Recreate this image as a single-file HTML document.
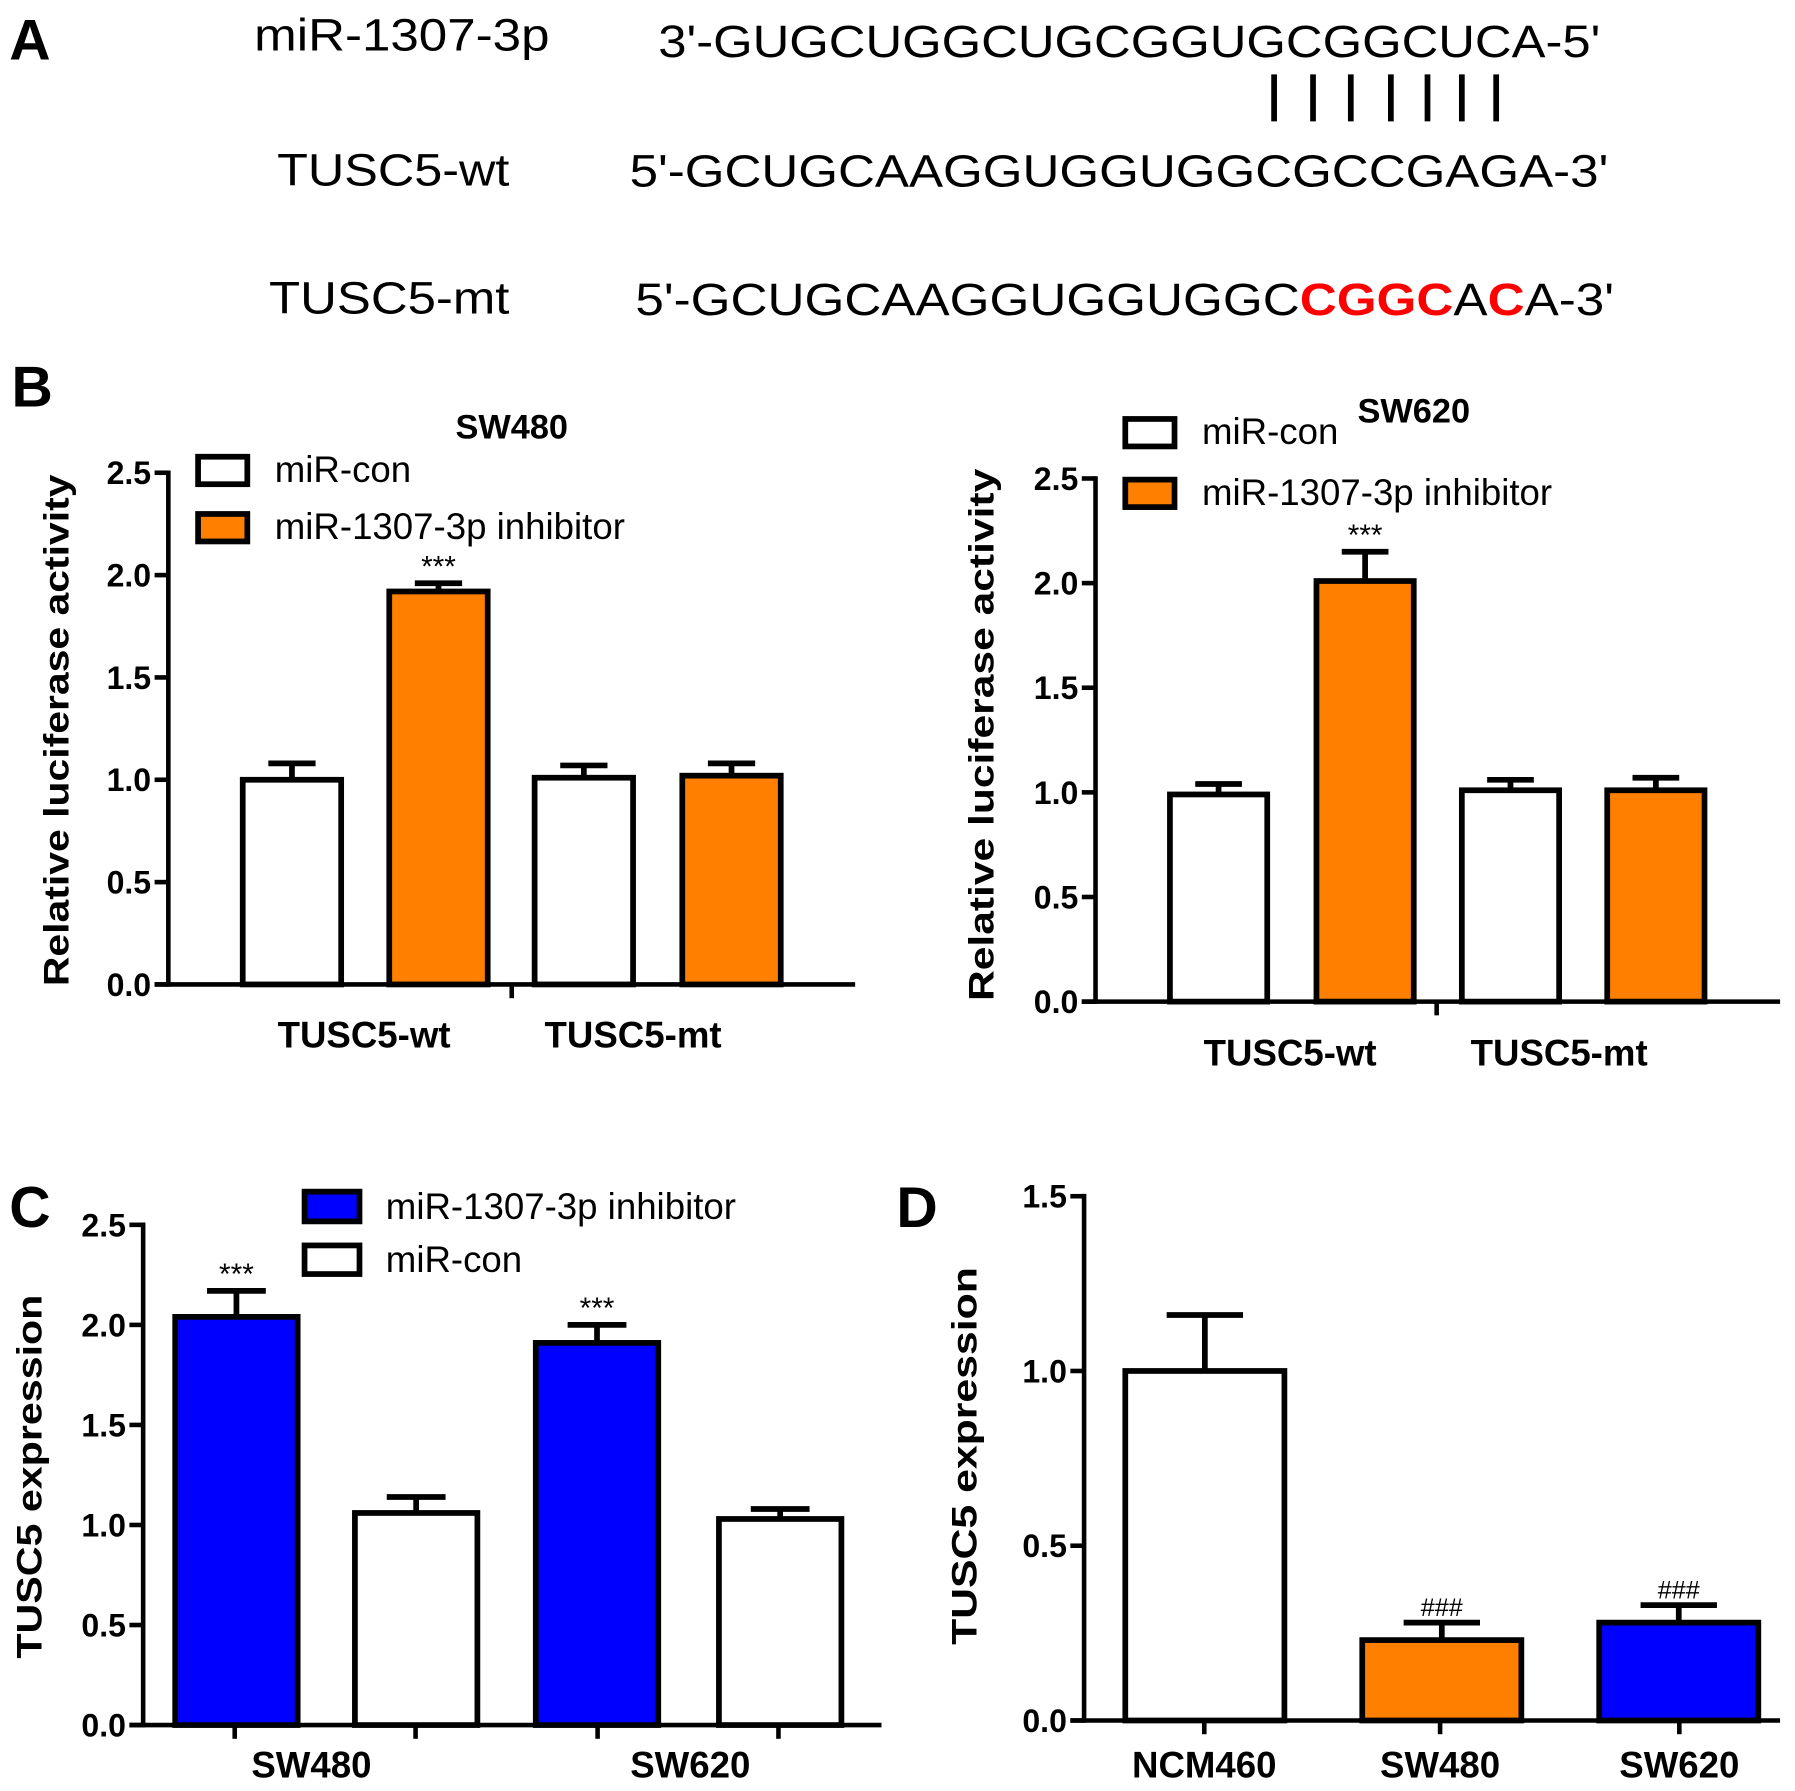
<!DOCTYPE html>
<html><head><meta charset="utf-8"><style>
html,body{margin:0;padding:0;background:#fff}
svg{display:block}
text{font-family:"Liberation Sans",Arial,sans-serif}
</style></head><body>
<svg id="fig" width="1795" height="1791" viewBox="0 0 1568 1564.6" xmlns="http://www.w3.org/2000/svg">
<g>
<text x="8" y="52" font-size="50" font-weight="bold">A</text>
<text x="222" y="44" font-size="40" textLength="258" lengthAdjust="spacingAndGlyphs">miR-1307-3p</text>
<text x="575" y="50" font-size="40" textLength="823" lengthAdjust="spacingAndGlyphs">3'-GUGCUGGCUGCGGUGCGGCUCA-5'</text>
<g stroke="#000" stroke-width="5">
<line x1="1113" y1="65" x2="1113" y2="106"/><line x1="1147" y1="65" x2="1147" y2="106"/><line x1="1180" y1="65" x2="1180" y2="106"/><line x1="1215" y1="65" x2="1215" y2="106"/><line x1="1247" y1="65" x2="1247" y2="106"/><line x1="1277" y1="65" x2="1277" y2="106"/><line x1="1307" y1="65" x2="1307" y2="106"/>
</g>
<text x="242" y="162" font-size="40" textLength="203" lengthAdjust="spacingAndGlyphs">TUSC5-wt</text>
<text x="550" y="163" font-size="40" textLength="855" lengthAdjust="spacingAndGlyphs">5'-GCUGCAAGGUGGUGGCGCCGAGA-3'</text>
<text x="235" y="274" font-size="40" textLength="210" lengthAdjust="spacingAndGlyphs">TUSC5-mt</text>
<text x="555" y="275" font-size="40" textLength="855" lengthAdjust="spacingAndGlyphs">5'-GCUGCAAGGUGGUGGC<tspan fill="#f00" font-weight="bold">CGGC</tspan>A<tspan fill="#f00" font-weight="bold">C</tspan>A-3'</text>
</g>
<text x="10" y="355" font-size="50" font-weight="bold">B</text>
<text x="8" y="1072" font-size="50" font-weight="bold">C</text>
<text x="783" y="1072" font-size="50" font-weight="bold">D</text>
</svg>
<script>
// ---- data ----
const b1Values = [1.0, 1.92, 1.01, 1.02];
const b1Errors = [0.08, 0.04, 0.06, 0.06];
const b1Marks = ["", "***", "", ""];
const b2Values = [0.99, 2.01, 1.01, 1.01];
const b2Errors = [0.05, 0.14, 0.05, 0.06];
const b2Marks = ["", "***", "", ""];
const bCategories = ["TUSC5-wt", "TUSC5-mt"];
const cValues = [2.04, 1.06, 1.91, 1.03];
const cErrors = [0.13, 0.08, 0.09, 0.05];
const cMarks = ["***", "", "***", ""];
const cCategories = ["SW480", "SW620"];
const dValues = [1.0, 0.23, 0.28];
const dErrors = [0.16, 0.05, 0.05];
const dMarks = ["", "###", "###"];
const dCategories = ["NCM460", "SW480", "SW620"];
const ticks25 = ["0.0", "0.5", "1.0", "1.5", "2.0", "2.5"];
const ticks15 = ["0.0", "0.5", "1.0", "1.5"];

const NS = "http://www.w3.org/2000/svg";
const svg = document.getElementById('fig');
function el(tag, attrs, parent, txt) {
  const e = document.createElementNS(NS, tag);
  for (const k in attrs) e.setAttribute(k, attrs[k]);
  if (txt !== undefined) e.textContent = txt;
  parent.appendChild(e);
  return e;
}
function chart(o) {
  const g = el('g', {}, svg);
  
  
  const max = parseFloat(o.ticks[o.ticks.length - 1]);
  const y = v => o.y0 - (v / max) * (o.y0 - o.yTop);
  const ax = el('line', {x1: o.ax, y1: o.yTop - 2, x2: o.ax, y2: o.y0 + 2, stroke: '#000', 'stroke-width': 4}, g);
  
  
  o.ticks.forEach(t => {
    const v = parseFloat(t);
    el('line', {x1: o.ax - 12, y1: y(v), x2: o.ax, y2: y(v), stroke: '#000', 'stroke-width': 4}, g);
    const tl = el('text', {x: o.ax - 15, y: y(v) + 10, 'font-size': 28, 'font-weight': 'bold', 'text-anchor': 'end'}, g, t);
    
    
  });
  const xa = el('line', {x1: o.ax - 12, y1: o.y0, x2: o.xEnd, y2: o.y0, stroke: '#000', 'stroke-width': 4}, g);
  
  
  o.xTicks.forEach(tx => el('line', {x1: tx, y1: o.y0, x2: tx, y2: o.y0 + 12, stroke: '#000', 'stroke-width': 4}, g));
  const yt = el('text', {x: 0, y: 0, 'font-size': 31, 'font-weight': 'bold', 'text-anchor': 'middle', textLength: o.titleLen, lengthAdjust: 'spacingAndGlyphs', transform: `translate(${o.titleX},${o.titleY}) rotate(-90)`}, g, o.yTitle);
  
  
  o.values.forEach((v, i) => {
    const x = o.barX[i], w = o.barW, top = y(v), cx = x + w / 2;
    const ey = y(v + o.errors[i]);
    el('line', {x1: cx, y1: top, x2: cx, y2: ey, stroke: '#000', 'stroke-width': 5}, g);
    el('line', {x1: cx - w * 0.24, y1: ey, x2: cx + w * 0.24, y2: ey, stroke: '#000', 'stroke-width': 5}, g);
    const r = el('rect', {x: x, y: top, width: w, height: o.y0 - top, fill: o.colors[i], stroke: '#000', 'stroke-width': 5}, g);
    
    
    if (o.marks[i]) {
      const m = el('text', {x: cx, y: ey - 6, 'font-size': o.marks[i] === '###' ? 22 : 26, 'text-anchor': 'middle'}, g, o.marks[i]);
      
      
    }
  });
  o.cats.forEach((c, i) => {
    const t = el('text', {x: o.catX[i], y: o.catY, 'font-size': 32, 'font-weight': 'bold', 'text-anchor': 'middle'}, g, c);
    
    
  });
  if (o.title) {
    const t = el('text', {x: o.title[1], y: o.title[2], 'font-size': 30, 'font-weight': 'bold', 'text-anchor': 'middle'}, g, o.title[0]);
    
    
  }
  (o.legend || []).forEach(L => {
    const lg = el('g', {}, g);
    
    
    el('rect', {x: L.x, y: L.y, width: L.w, height: L.h, fill: L.c, stroke: '#000', 'stroke-width': 5}, lg);
    el('text', {x: L.tx, y: L.y + L.h - 2, 'font-size': 32}, lg, L.t);
  });
}
const W = '#fff', O = '#ff8000', B = '#0000ff';
chart({name: 'chart-b-sw480', values: b1Values, errors: b1Errors, marks: b1Marks, ticks: ticks25,
  ax: 147, yTop: 413, y0: 860, xEnd: 747, xTicks: [447], barX: [212, 340, 467, 596], barW: 86,
  colors: [W, O, W, O], cats: bCategories, catX: [318, 553], catY: 915, titleX: 60, titleY: 638, titleLen: 447,
  yTitle: 'Relative luciferase activity', title: ['SW480', 447, 383],
  legend: [{x: 173, y: 399, w: 43, h: 24, c: W, tx: 240, t: 'miR-con'}, {x: 173, y: 449, w: 43, h: 24, c: O, tx: 240, t: 'miR-1307-3p inhibitor'}]});
chart({name: 'chart-b-sw620', values: b2Values, errors: b2Errors, marks: b2Marks, ticks: ticks25,
  ax: 957, yTop: 418, y0: 875, xEnd: 1555, xTicks: [1255], barX: [1022, 1150, 1277, 1404], barW: 85,
  colors: [W, O, W, O], cats: bCategories, catX: [1127, 1362], catY: 931, titleX: 868, titleY: 642, titleLen: 465,
  yTitle: 'Relative luciferase activity', title: ['SW620', 1235, 369],
  legend: [{x: 983, y: 366, w: 43, h: 24, c: W, tx: 1050, t: 'miR-con'}, {x: 983, y: 419, w: 43, h: 24, c: O, tx: 1050, t: 'miR-1307-3p inhibitor'}]});
chart({name: 'chart-c', values: cValues, errors: cErrors, marks: cMarks, ticks: ticks25,
  ax: 125, yTop: 1070, y0: 1507, xEnd: 770, xTicks: [205, 363, 522, 680], barX: [153, 310, 468, 628], barW: 107,
  colors: [B, W, B, W], cats: cCategories, catX: [272, 603], catY: 1553, titleX: 36, titleY: 1290, titleLen: 318,
  yTitle: 'TUSC5 expression',
  legend: [{x: 266, y: 1041, w: 48, h: 26, c: B, tx: 337, t: 'miR-1307-3p inhibitor'}, {x: 266, y: 1088, w: 48, h: 25, c: W, tx: 337, t: 'miR-con'}]});
chart({name: 'chart-d', values: dValues, errors: dErrors, marks: dMarks, ticks: ticks15,
  ax: 947, yTop: 1045, y0: 1503, xEnd: 1555, xTicks: [1052, 1258, 1467], barX: [983, 1190, 1397], barW: 139,
  colors: [W, O, B], cats: dCategories, catX: [1052, 1258, 1467], catY: 1553, titleX: 853, titleY: 1272, titleLen: 330,
  yTitle: 'TUSC5 expression'});
</script>
</body></html>
